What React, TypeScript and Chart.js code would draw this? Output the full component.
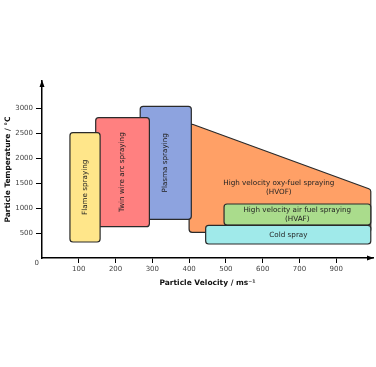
import React, { useEffect, useRef } from "react";
import { Chart, registerables } from "chart.js";

Chart.register(...registerables);

// Draw order: back to front
const methods = [
  ["High velocity oxy-fuel spraying", "(HVOF)"],
  ["Plasma spraying"],
  ["Twin wire arc spraying"],
  ["Flame spraying"],
  ["High velocity air fuel spraying", "(HVAF)"],
  ["Cold spray"],
];
const velocityMin = [400, 267, 146, 76, 495, 445];
const velocityMax = [894, 406, 292, 158, 894, 894];
const tempMin = [513, 773, 627, 320, 660, 280];
const tempTopLeft = [2700, 3033, 2807, 2506, 1080, 653];
const tempTopRight = [1370, 3033, 2807, 2506, 1080, 653];
const labelVelocity = [644, 336, 219, 117, 694, 670];
const labelTemp = [1400, 1903, 1717, 1413, 870, 466];
const labelVertical = [false, true, true, true, false, false];
const fillColors = ["#FFA066", "#8DA3DF", "#FF8080", "#FFE68A", "#AADC8C", "#A0EAEA"];

const xTickValues = [100, 200, 300, 400, 500, 600, 700, 800];
const xTickLabels = ["100", "200", "300", "400", "500", "600", "700", "900"];
const yTickValues = [0, 500, 1000, 1500, 2000, 2500, 3000];

const FONT = "DejaVu Sans";

function roundedPoly(ctx: CanvasRenderingContext2D, pts: { x: number; y: number }[], r: number) {
  const n = pts.length;
  const a = pts[n - 1];
  const b = pts[0];
  ctx.beginPath();
  ctx.moveTo((a.x + b.x) / 2, (a.y + b.y) / 2);
  for (let i = 0; i < n; i++) {
    const p = pts[i];
    const q = pts[(i + 1) % n];
    ctx.arcTo(p.x, p.y, q.x, q.y, r);
  }
  ctx.closePath();
}

const shapesPlugin = {
  id: "shapes",
  afterDraw(chart: any) {
    const ctx: CanvasRenderingContext2D = chart.ctx;
    const xs = chart.scales.x;
    const ys = chart.scales.y;
    const area = chart.chartArea;
    ctx.save();
    for (let i = 0; i < methods.length; i++) {
      const x0 = xs.getPixelForValue(velocityMin[i]);
      const x1 = xs.getPixelForValue(velocityMax[i]);
      const yb = ys.getPixelForValue(tempMin[i]);
      const ytl = ys.getPixelForValue(tempTopLeft[i]);
      const ytr = ys.getPixelForValue(tempTopRight[i]);
      roundedPoly(
        ctx,
        [
          { x: x0, y: yb },
          { x: x0, y: ytl },
          { x: x1, y: ytr },
          { x: x1, y: yb },
        ],
        3
      );
      ctx.fillStyle = fillColors[i];
      ctx.fill();
      ctx.lineWidth = 1.2;
      ctx.strokeStyle = "#2a2a2a";
      ctx.lineJoin = "round";
      ctx.stroke();

      const cx = xs.getPixelForValue(labelVelocity[i]);
      const cy = ys.getPixelForValue(labelTemp[i]);
      ctx.fillStyle = "#222";
      ctx.font = `7.2px "${FONT}"`;
      ctx.textAlign = "center";
      ctx.textBaseline = "middle";
      const lines = methods[i];
      const lh = 9;
      ctx.save();
      ctx.translate(cx, cy);
      if (labelVertical[i]) ctx.rotate(-Math.PI / 2);
      lines.forEach((ln, k) => {
        ctx.fillText(ln, 0, (k - (lines.length - 1) / 2) * lh);
      });
      ctx.restore();
    }

    // axis arrows
    ctx.fillStyle = "#000";
    const ax = area.left;
    ctx.beginPath();
    ctx.moveTo(ax, area.top - 1);
    ctx.lineTo(ax - 2.5, area.top + 6);
    ctx.lineTo(ax + 2.5, area.top + 6);
    ctx.closePath();
    ctx.fill();
    const ay = area.bottom;
    ctx.beginPath();
    ctx.moveTo(area.right + 1, ay);
    ctx.lineTo(area.right - 6, ay - 2.5);
    ctx.lineTo(area.right - 6, ay + 2.5);
    ctx.closePath();
    ctx.fill();

    // origin label
    ctx.fillStyle = "#444";
    ctx.font = `7px "${FONT}"`;
    ctx.textAlign = "right";
    ctx.textBaseline = "middle";
    ctx.fillText("0", area.left - 3, ys.getPixelForValue(0) + 5);
    ctx.restore();
  },
};

export default function App() {
  const ref = useRef<HTMLCanvasElement | null>(null);
  useEffect(() => {
    if (!ref.current) return;
    const chart = new Chart(ref.current, {
      type: "scatter",
      data: { datasets: [{ data: [] }] },
      options: {
        animation: false,
        responsive: false,
        layout: { padding: { top: 81, right: 3, left: 0, bottom: 0 } },
        plugins: { legend: { display: false }, tooltip: { enabled: false } },
        scales: {
          x: {
            type: "linear",
            min: 0,
            max: 900,
            afterBuildTicks: (s: any) => {
              s.ticks = xTickValues.map((v) => ({ value: v }));
            },
            afterFit: (s: any) => {
              s.height = 109;
            },
            ticks: {
              autoSkip: false,
              maxRotation: 0,
              padding: 2,
              color: "#444",
              font: { family: FONT, size: 7 },
              callback: (v: any) => xTickLabels[xTickValues.indexOf(Number(v))],
            },
            grid: {
              drawOnChartArea: false,
              drawTicks: true,
              tickLength: 5,
              color: "#000",
              tickColor: "#000",
            },
            border: { display: true, color: "#000", width: 1.5 },
            title: {
              display: true,
              text: "Particle Velocity / ms⁻¹",
              color: "#111",
              font: { family: FONT, size: 7.5, weight: "bold" },
              padding: { top: 0, bottom: 79.5 },
            },
          },
          y: {
            type: "linear",
            min: 0,
            max: 3540,
            afterBuildTicks: (s: any) => {
              s.ticks = yTickValues.map((v) => ({ value: v }));
            },
            afterFit: (s: any) => {
              s.width = 42;
            },
            ticks: {
              padding: 3,
              color: "#444",
              font: { family: FONT, size: 7 },
              callback: (v: any) => (Number(v) === 0 ? "" : String(v)),
            },
            grid: {
              drawOnChartArea: false,
              drawTicks: true,
              tickLength: 6,
              color: "#000",
              tickColor: (c: any) => (c.tick && c.tick.value === 0 ? "rgba(0,0,0,0)" : "#000"),
            },
            border: { display: true, color: "#000", width: 1.5 },
            title: {
              display: true,
              text: "Particle Temperature / °C",
              color: "#111",
              font: { family: FONT, size: 7.5, weight: "bold" },
              padding: { top: 3.5, bottom: 0 },
            },
          },
        },
      },
      plugins: [shapesPlugin],
    } as any);
    return () => chart.destroy();
  }, []);
  return (
    <div style={{ position: "fixed", left: 0, top: 0, width: 376, height: 367, background: "#fff" }}>
      <canvas ref={ref} width={376} height={367} style={{ display: "block" }} />
    </div>
  );
}
